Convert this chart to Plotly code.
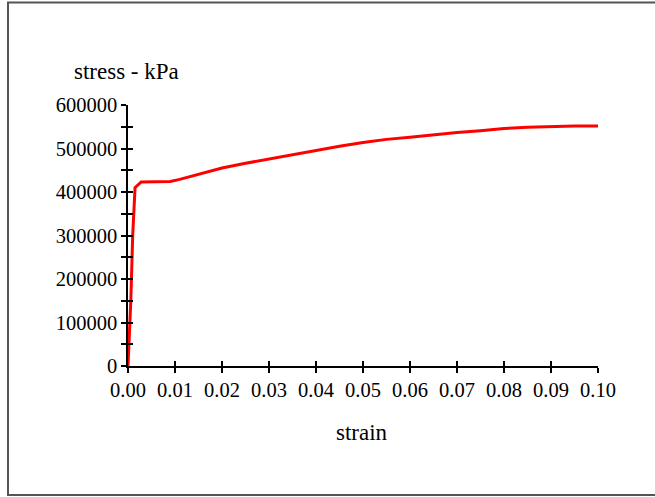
import plotly.graph_objects as go

# Stress-strain curve: steep elastic branch, short yield plateau, then hardening
strain = [0.0, 0.0003, 0.0006, 0.001, 0.0015, 0.0028, 0.009, 0.011, 0.015,
          0.02, 0.025, 0.03, 0.035, 0.04, 0.045, 0.05, 0.055, 0.06, 0.065,
          0.07, 0.075, 0.08, 0.085, 0.09, 0.095, 0.10]
stress_kpa = [0, 80000, 150000, 300000, 410000, 423000, 424000, 429000, 441000,
              455000, 466000, 476000, 485000, 495000, 505000, 514000, 521000,
              526000, 532000, 537000, 541000, 546000, 549000, 551000, 552000, 552000]

x_ticks = [0.00, 0.01, 0.02, 0.03, 0.04, 0.05, 0.06, 0.07, 0.08, 0.09, 0.10]
x_tick_labels = ["0.00", "0.01", "0.02", "0.03", "0.04", "0.05",
                 "0.06", "0.07", "0.08", "0.09", "0.10"]
y_ticks = [0, 100000, 200000, 300000, 400000, 500000, 600000]
y_tick_labels = ["0", "100000", "200000", "300000", "400000", "500000", "600000"]
y_minor = [50000, 150000, 250000, 350000, 450000, 550000]

W, H = 655, 497
ML, MR, MT, MB = 128, 57, 105, 131
PW, PH = W - ML - MR, H - MT - MB

FONT = "Liberation Serif"
TICK_FS = 20.5
TITLE_FS = 23

fig = go.Figure()
fig.add_trace(go.Scatter(x=strain, y=stress_kpa, mode="lines",
                         line=dict(color="#ff0000", width=3),
                         hoverinfo="skip", showlegend=False))

axis_common = dict(showgrid=False, zeroline=False, showline=True,
                   linecolor="black", linewidth=1.5,
                   tickcolor="black", tickwidth=1.5, ticklen=5,
                   tickfont=dict(family=FONT, size=TICK_FS, color="black"))

fig.update_layout(
    width=W, height=H,
    margin=dict(l=ML, r=MR, t=MT, b=MB, pad=0),
    paper_bgcolor="white", plot_bgcolor="white",
    font=dict(family=FONT, size=TICK_FS, color="black"),
    showlegend=False,
    xaxis=dict(range=[0, 0.10], tickvals=x_ticks, ticktext=x_tick_labels,
               ticks="outside", anchor="y", **axis_common),
    yaxis=dict(range=[0, 600000], tickvals=y_ticks, ticktext=y_tick_labels,
               ticks="outside", anchor="x",
               minor=dict(tickvals=y_minor, ticks="outside", ticklen=5,
                          tickcolor="black", tickwidth=1.5),
               **axis_common),
    # mirror axes carrying the inward half of each crossing tick
    xaxis2=dict(range=[0, 0.10], tickvals=x_ticks, showticklabels=False,
                ticks="inside", overlaying="x", anchor="y", side="bottom",
                **axis_common),
    yaxis2=dict(range=[0, 600000], tickvals=y_ticks, showticklabels=False,
                ticks="inside", overlaying="y", anchor="x", side="left",
                minor=dict(tickvals=y_minor, ticks="inside", ticklen=5,
                           tickcolor="black", tickwidth=1.5),
                **axis_common),
)

# invisible trace so the mirror axes are drawn
fig.add_trace(go.Scatter(x=[0], y=[0], xaxis="x2", yaxis="y2", mode="markers",
                         marker=dict(opacity=0), hoverinfo="skip", showlegend=False))

# axis titles
fig.add_annotation(text="stress - kPa", xref="paper", yref="paper",
                   x=(72 - ML) / PW, y=(H - MB - 71) / PH,
                   xanchor="left", yanchor="middle", showarrow=False,
                   font=dict(family=FONT, size=TITLE_FS, color="black"))
fig.add_annotation(text="strain", xref="paper", yref="paper",
                   x=(362 - ML) / PW, y=(H - MB - 432) / PH,
                   xanchor="center", yanchor="middle", showarrow=False,
                   font=dict(family=FONT, size=TITLE_FS, color="black"))

# outer frame
fig.add_shape(type="rect", xref="paper", yref="paper",
              x0=(8 - ML) / PW, x1=(662 - ML) / PW,
              y0=(H - MB - 495) / PH, y1=(H - MB - 2.5) / PH,
              line=dict(color="#555555", width=2), fillcolor="rgba(0,0,0,0)",
              layer="below")

fig.write_html("out.html")
